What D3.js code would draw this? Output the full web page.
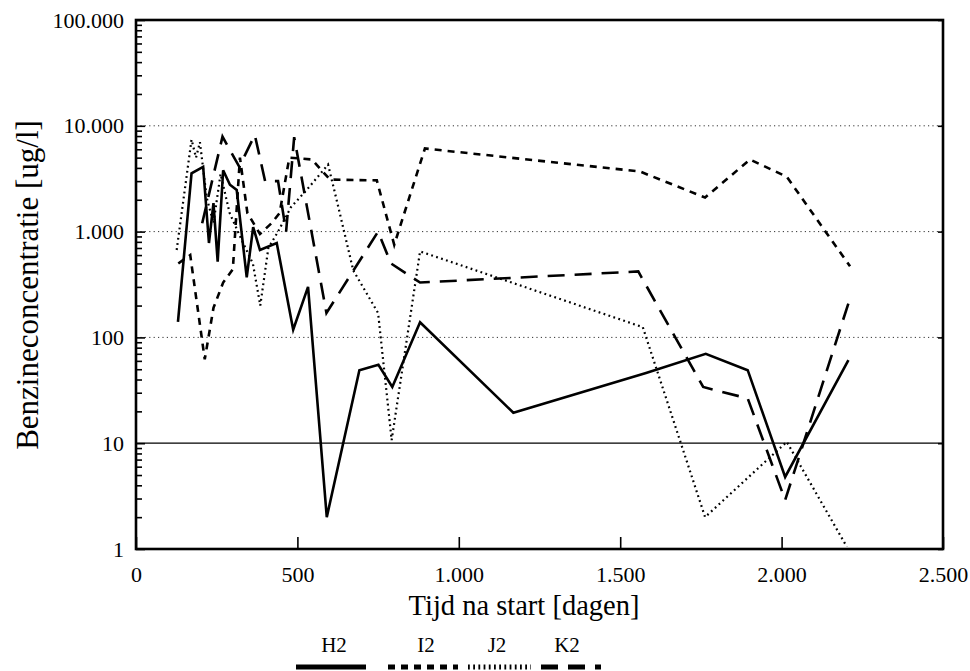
<!DOCTYPE html>
<html>
<head>
<meta charset="utf-8">
<script src="https://cdn.jsdelivr.net/npm/d3@7"></script>
<style>
  html, body { margin: 0; padding: 0; background: #fff; }
  svg { display: block; }
  text { font-family: "Liberation Serif", "Times New Roman", serif; fill: #000; }
</style>
</head>
<body>
<svg id="chart" width="970" height="671"></svg>
<script>
// Benzene concentration per monitoring well over time (days after start)
const seriesNames = ["H2", "I2", "J2", "K2"];

const h2Days   = [130, 172, 208, 226, 240, 253, 270, 291, 312, 343, 363, 384, 436, 487, 533, 591, 692, 751, 794, 880, 1169, 1580, 1765, 1895, 2011, 2207];
const h2Values = [140, 3560, 4100, 780, 1860, 520, 3800, 2770, 2470, 370, 1100, 670, 780, 118, 300, 2, 49, 55, 34, 139, 19.4, 46, 70, 49, 4.8, 61];

const i2Days   = [131, 168, 213, 240, 270, 300, 322, 345, 384, 420, 445, 475, 545, 601, 746, 800, 895, 1561, 1763, 1902, 2016, 2212];
const i2Values = [500, 600, 62, 190, 330, 440, 5000, 1500, 950, 1200, 1500, 5000, 4800, 3100, 3050, 750, 6100, 3700, 2100, 4800, 3300, 470];

const j2Days   = [126, 172, 186, 198, 219, 240, 262, 290, 330, 362, 385, 410, 440, 480, 530, 595, 625, 673, 750, 792, 880, 1570, 1763, 2016, 2202];
const j2Values = [670, 7400, 5000, 7000, 2100, 1200, 3500, 1500, 800, 500, 200, 700, 1000, 1700, 2500, 4300, 1800, 430, 170, 10.7, 650, 125, 2, 10.3, 1.05];

const k2Days   = [205, 268, 320, 368, 400, 440, 465, 490, 590, 750, 790, 880, 1556, 1757, 1895, 2011, 2207];
const k2Values = [1200, 7900, 4100, 8200, 3000, 3000, 1000, 7800, 170, 1000, 500, 330, 420, 34, 26.5, 2.9, 210];

const xTicks = [0, 500, 1000, 1500, 2000, 2500];
const yTicks = [1, 10, 100, 1000, 10000, 100000];

const xTitle = "Tijd na start [dagen]";
const yTitle = "Benzineconcentratie [ug/l]";

// Dutch number formatting: "." as thousands separator
const nl = d3.formatLocale({ decimal: ",", thousands: ".", grouping: [3], currency: ["", ""] });
const fmt = nl.format(",d");

const svg = d3.select("#chart");
const plotL = 136, plotR = 943, plotT = 20, plotB = 549;

const x = d3.scaleLinear().domain([0, 2500]).range([plotL, plotR]);
const y = d3.scaleLog().domain([1, 100000]).range([plotB, plotT]);

// horizontal reference lines: dotted at 100 / 1.000 / 10.000, solid at 10
const g = svg.append("g");
g.selectAll("line.grid")
  .data([100, 1000, 10000])
  .join("line")
  .attr("class", "grid")
  .attr("x1", plotL).attr("x2", plotR)
  .attr("y1", d => y(d)).attr("y2", d => y(d))
  .attr("stroke", "#333").attr("stroke-width", 1)
  .attr("stroke-dasharray", "1.2,3.2");
g.append("line")
  .attr("x1", plotL).attr("x2", plotR)
  .attr("y1", y(10)).attr("y2", y(10))
  .attr("stroke", "#000").attr("stroke-width", 1.3);

// minor log ticks
const minors = [];
for (let p = 1; p < 100000; p *= 10) for (let k = 2; k <= 9; k++) minors.push(p * k);

svg.append("g")
  .attr("transform", `translate(${plotL},0)`)
  .call(d3.axisLeft(y).tickValues(minors).tickSize(-6).tickFormat(""))
  .call(a => a.select(".domain").remove())
  .selectAll("line").attr("stroke-width", 1.6);

svg.append("g")
  .attr("transform", `translate(${plotL},0)`)
  .call(d3.axisLeft(y).tickValues(yTicks).tickSize(-9).tickPadding(12).tickFormat(fmt))
  .call(a => a.select(".domain").remove())
  .call(a => a.selectAll("line").attr("stroke-width", 1.6))
  .call(a => a.selectAll("text").style("font-size", "22px").style("font-family", "Liberation Serif, serif"));

svg.append("g")
  .attr("transform", `translate(${plotR},0)`)
  .call(d3.axisRight(y).tickValues(yTicks).tickSize(-5).tickFormat(""))
  .call(a => a.select(".domain").remove())
  .selectAll("line").attr("stroke-width", 1.6);

svg.append("g")
  .attr("transform", `translate(0,${plotB})`)
  .call(d3.axisBottom(x).tickValues(xTicks).tickSize(-12).tickPadding(17).tickFormat(fmt))
  .call(a => a.select(".domain").remove())
  .call(a => a.selectAll("line").attr("stroke-width", 1.6))
  .call(a => a.selectAll("text").style("font-size", "22px").style("font-family", "Liberation Serif, serif"));

// plot frame
svg.append("rect")
  .attr("x", plotL).attr("y", plotT)
  .attr("width", plotR - plotL).attr("height", plotB - plotT)
  .attr("fill", "none").attr("stroke", "#000").attr("stroke-width", 2.6);

// series lines
const styles = {
  H2: { dash: null, width: 2.6 },
  I2: { dash: "7,6", width: 2.6 },
  J2: { dash: "1.8,3.4", width: 2.2 },
  K2: { dash: "17,10", width: 2.6 }
};
const seriesData = [
  { name: "H2", days: h2Days, values: h2Values },
  { name: "I2", days: i2Days, values: i2Values },
  { name: "J2", days: j2Days, values: j2Values },
  { name: "K2", days: k2Days, values: k2Values }
];
const line = d3.line().x(d => x(d[0])).y(d => y(d[1]));

svg.append("g").selectAll("path")
  .data(seriesData)
  .join("path")
  .attr("d", s => line(d3.zip(s.days, s.values)))
  .attr("fill", "none")
  .attr("stroke", "#000")
  .attr("stroke-width", s => styles[s.name].width)
  .attr("stroke-dasharray", s => styles[s.name].dash)
  .attr("stroke-linejoin", "miter");

// axis titles
svg.append("text")
  .attr("x", 524).attr("y", 615)
  .attr("text-anchor", "middle")
  .style("font-size", "28.5px")
  .text(xTitle);

svg.append("text")
  .attr("transform", "translate(38,285) rotate(-90)")
  .attr("text-anchor", "middle")
  .style("font-size", "31px")
  .text(yTitle);

// legend: label above a line sample
const legendLayout = {
  H2: { label: 334, x1: 296, x2: 366 },
  I2: { label: 426, x1: 388, x2: 458 },
  J2: { label: 497, x1: 468, x2: 531 },
  K2: { label: 567, x1: 541, x2: 601 }
};
const lg = svg.append("g");
lg.selectAll("text")
  .data(seriesNames)
  .join("text")
  .attr("x", d => legendLayout[d].label).attr("y", 652)
  .attr("text-anchor", "middle")
  .style("font-size", "21px")
  .text(d => d);
lg.selectAll("line")
  .data(seriesNames)
  .join("line")
  .attr("x1", d => legendLayout[d].x1).attr("x2", d => legendLayout[d].x2)
  .attr("y1", 667).attr("y2", 667)
  .attr("stroke", "#000")
  .attr("stroke-width", 5)
  .attr("stroke-dasharray", d => styles[d].dash);
</script>
</body>
</html>
